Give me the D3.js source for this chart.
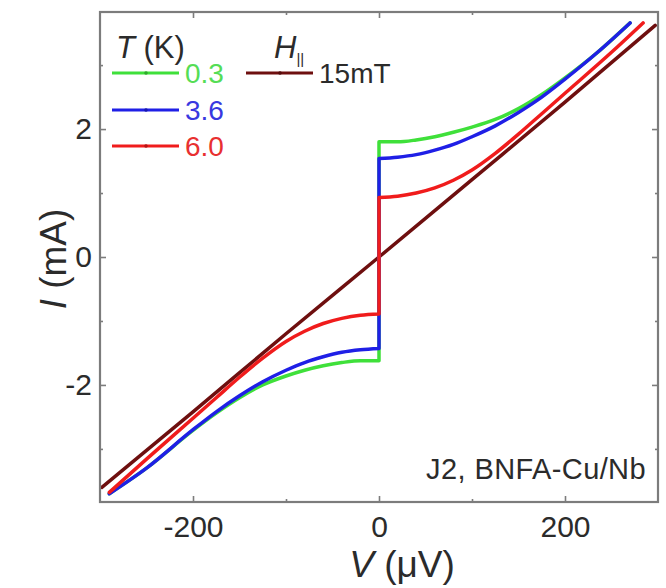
<!DOCTYPE html>
<html>
<head>
<meta charset="utf-8">
<script src="https://cdn.jsdelivr.net/npm/d3@7"></script>
<style>
  html, body { margin: 0; padding: 0; background: #fff; }
  svg { display: block; font-family: "Liberation Sans", Arial, sans-serif; }
</style>
</head>
<body>
<svg id="chart" width="666" height="588"></svg>
<script>
// ---------- data (V in µV, I in mA) ----------
const xTicksMajor = [-200, 0, 200];
const xTicksMinor = [-100, 100];
const yTicksMajor = [-2, 0, 2];
const yTicksMinor = [-3, -1, 1, 3];

const seriesNames = ["0.3", "3.6", "6.0", "15mT"];

// T = 0.3 K
const green_V = [-290, -250, -200, -175, -150, -125, -100, -80, -60, -40, -20, 0, 0, 20, 40, 60, 80, 100, 125, 150, 175, 200, 235, 270];
const green_I = [-3.70, -3.30, -2.71, -2.44, -2.20, -2.00, -1.86, -1.77, -1.70, -1.65, -1.62, -1.62, 1.80, 1.80, 1.83, 1.88, 1.95, 2.03, 2.15, 2.32, 2.54, 2.80, 3.20, 3.66];
// T = 3.6 K
const blue_V = [-290, -250, -200, -175, -150, -125, -100, -80, -60, -40, -20, 0, 0, 20, 40, 60, 80, 100, 125, 150, 175, 200, 235, 270];
const blue_I = [-3.70, -3.30, -2.70, -2.42, -2.17, -1.95, -1.77, -1.65, -1.56, -1.49, -1.45, -1.43, 1.54, 1.56, 1.60, 1.67, 1.76, 1.88, 2.05, 2.26, 2.50, 2.78, 3.20, 3.66];
// T = 6.0 K
const red_V = [-290, -250, -200, -175, -150, -125, -100, -80, -60, -40, -20, 0, 0, 20, 40, 60, 80, 100, 125, 150, 175, 200, 250, 284];
const red_I = [-3.68, -3.16, -2.52, -2.20, -1.88, -1.58, -1.32, -1.16, -1.04, -0.96, -0.91, -0.89, 0.93, 0.95, 1.00, 1.08, 1.20, 1.36, 1.62, 1.92, 2.24, 2.56, 3.20, 3.66];
// H|| = 15 mT
const maroon_V = [-298, -200, -100, 0, 100, 200, 297];
const maroon_I = [-3.60, -2.42, -1.20, 0, 1.21, 2.42, 3.62];

const colors = { green: "#3fe03a", blue: "#1f1fe6", red: "#f01c1c", maroon: "#6e0f0f" };

// ---------- layout ----------
const svg = d3.select("#chart");
const L = 100, R = 658, T = 12, B = 502;
const x = d3.scaleLinear().domain([-300, 300]).range([L, R]);
const y = d3.scaleLinear().domain([-3.83, 3.83]).range([B, T]);
const frameColor = "#7c7c7c";
const textColor = "#2b2b2b";
const fmt = d => String(d); // hyphen-minus like the reference

// ---------- curves ----------
const line = d3.line().x(d => x(d[0])).y(d => y(d[1])).curve(d3.curveMonotoneX);

function pathFor(V, I) {
  const pts = V.map((v, k) => [v, I[k]]);
  let split = -1;
  for (let k = 0; k < pts.length - 1; k++) {
    if (pts[k][0] === pts[k + 1][0]) { split = k; break; }
  }
  if (split < 0) return line(pts);
  const a = line(pts.slice(0, split + 1));
  const b = line(pts.slice(split + 1));
  return a + "L" + b.slice(1);
}

svg.append("defs").append("clipPath").attr("id", "clip")
  .append("rect").attr("x", L).attr("y", T).attr("width", R - L).attr("height", B - T);

const curves = [
  { V: maroon_V, I: maroon_I, c: colors.maroon },
  { V: green_V, I: green_I, c: colors.green },
  { V: blue_V, I: blue_I, c: colors.blue },
  { V: red_V, I: red_I, c: colors.red }
];
const cg = svg.append("g").attr("clip-path", "url(#clip)");
curves.forEach(s => {
  cg.append("path")
    .attr("d", pathFor(s.V, s.I))
    .attr("fill", "none")
    .attr("stroke", s.c)
    .attr("stroke-width", 3.5)
    .attr("stroke-linejoin", "round")
    .attr("stroke-linecap", "round");
});

// ---------- axes (ticks inward, mirrored) ----------
function styleAxis(g) {
  g.select(".domain").remove();
  g.selectAll(".tick line").attr("stroke", frameColor).attr("stroke-width", 1.6);
  g.selectAll(".tick text").attr("fill", textColor).style("font-size", "30px")
    .style("font-family", "'Liberation Sans', Arial, sans-serif");
}
svg.append("g").attr("transform", `translate(0,${B})`)
  .call(d3.axisBottom(x).tickValues(xTicksMajor).tickSize(-6).tickPadding(14).tickFormat(fmt))
  .call(styleAxis);
svg.append("g").attr("transform", `translate(0,${B})`)
  .call(d3.axisBottom(x).tickValues(xTicksMinor).tickSize(-3).tickFormat(""))
  .call(styleAxis);
svg.append("g").attr("transform", `translate(0,${T})`)
  .call(d3.axisTop(x).tickValues(xTicksMajor).tickSize(-6).tickFormat(""))
  .call(styleAxis);
svg.append("g").attr("transform", `translate(0,${T})`)
  .call(d3.axisTop(x).tickValues(xTicksMinor).tickSize(-3).tickFormat(""))
  .call(styleAxis);
svg.append("g").attr("transform", `translate(${L},0)`)
  .call(d3.axisLeft(y).tickValues(yTicksMajor).tickSize(-6).tickPadding(8).tickFormat(fmt))
  .call(styleAxis);
svg.append("g").attr("transform", `translate(${L},0)`)
  .call(d3.axisLeft(y).tickValues(yTicksMinor).tickSize(-3).tickFormat(""))
  .call(styleAxis);
svg.append("g").attr("transform", `translate(${R},0)`)
  .call(d3.axisRight(y).tickValues(yTicksMajor).tickSize(-6).tickFormat(""))
  .call(styleAxis);
svg.append("g").attr("transform", `translate(${R},0)`)
  .call(d3.axisRight(y).tickValues(yTicksMinor).tickSize(-3).tickFormat(""))
  .call(styleAxis);

// frame
svg.append("rect").attr("x", L).attr("y", T).attr("width", R - L).attr("height", B - T)
  .attr("fill", "none").attr("stroke", frameColor).attr("stroke-width", 2.2);

// ---------- axis titles ----------
const xt = svg.append("text").attr("x", 402).attr("y", 577).attr("text-anchor", "middle")
  .attr("fill", textColor).style("font-size", "37px");
xt.append("tspan").attr("font-style", "italic").text("V");
xt.append("tspan").text(" (\u03BCV)");

const yt = svg.append("text").attr("transform", "translate(66,259) rotate(-90)")
  .attr("text-anchor", "middle").attr("fill", textColor).style("font-size", "37px");
yt.append("tspan").attr("font-style", "italic").text("I");
yt.append("tspan").text(" (mA)");

// sample label
svg.append("text").attr("x", 646).attr("y", 479).attr("text-anchor", "end")
  .attr("fill", textColor).style("font-size", "29px").style("letter-spacing", "0.4px")
  .text("J2, BNFA-Cu/Nb");

// ---------- legend ----------
const lg = svg.append("g");
const th = lg.append("text").attr("x", 116).attr("y", 58).attr("fill", textColor).style("font-size", "31px");
th.append("tspan").attr("font-style", "italic").text("T");
th.append("tspan").text(" (K)");
const hh = lg.append("text").attr("x", 274).attr("y", 58).attr("fill", textColor).style("font-size", "31px");
hh.append("tspan").attr("font-style", "italic").text("H");
hh.append("tspan").attr("dy", 6).style("font-size", "15px").text("||");

const legendItems = [
  { label: seriesNames[0], c: colors.green, tc: "#55dd55", x0: 112, y0: 73 },
  { label: seriesNames[1], c: colors.blue, tc: "#3838e0", x0: 112, y0: 110 },
  { label: seriesNames[2], c: colors.red, tc: "#e83030", x0: 112, y0: 146 },
  { label: seriesNames[3], c: colors.maroon, tc: textColor, x0: 246, y0: 73 }
];
legendItems.forEach(it => {
  lg.append("line").attr("x1", it.x0).attr("x2", it.x0 + 67).attr("y1", it.y0).attr("y2", it.y0)
    .attr("stroke", it.c).attr("stroke-width", 3.2);
  lg.append("circle").attr("cx", it.x0 + 34).attr("cy", it.y0).attr("r", 1.8)
    .attr("fill", d3.color(it.c).darker(0.8));
  lg.append("text").attr("x", it.x0 + 73).attr("y", it.y0 + 10).attr("fill", it.tc)
    .style("font-size", "28px").text(it.label);
});
</script>
</body>
</html>
